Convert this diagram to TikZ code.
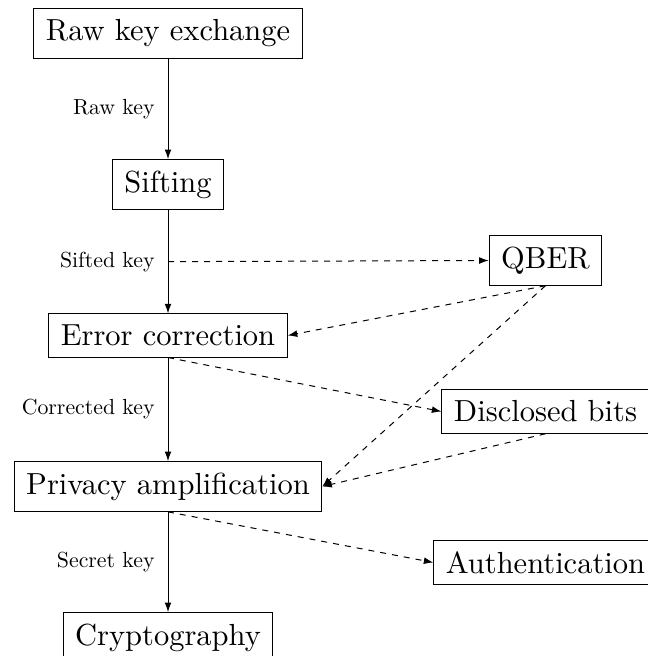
\documentclass[tikz,border=0pt]{standalone}
\usepackage{graphicx}
\usetikzlibrary{arrows.meta}
\newcommand{\BigT}[1]{\scalebox{1.525}{#1}}
\newcommand{\LblT}[1]{\scalebox{1.09}{#1}}
\begin{document}
\begin{tikzpicture}[x=0.5pt,y=-0.5pt,line width=0.5pt,
  box/.style={draw, font=\fontsize{10}{12}\selectfont, inner xsep=6pt, inner ysep=5.5pt},
  lbl/.style={font=\fontsize{10}{12}\selectfont, inner sep=0pt},
  flow/.style={-{Latex[length=4.8pt,width=3.4pt]}},
  side/.style={dashed,-{Latex[length=4.8pt,width=3.4pt]}}]
\useasboundingbox (0,0) rectangle (647,656);
\node[box] (rke)  at (168,33.5)  {\BigT{Raw key exchange}};
\node[box] (sift) at (168,184.5) {\BigT{Sifting}};
\node[box] (ec)   at (168,335.5) {\BigT{Error correction}};
\node[box] (pa)   at (168,486.5) {\BigT{Privacy amplification}};
\node[box] (cry)  at (168,637.5) {\BigT{Cryptography}};
\node[box] (qber) at (545.5,260.5) {\BigT{QBER}};
\node[box] (disc) at (545.5,411.5) {\BigT{Disclosed bits}};
\node[box] (auth) at (545.5,562.5) {\BigT{Authentication}};
\draw[flow] (rke) -- node[lbl,left=6.5pt] {\LblT{Raw key}} (sift);
\draw[flow] (sift) -- node[lbl,left=6.5pt] {\LblT{Sifted key}} coordinate[pos=0.5] (m2) (ec);
\draw[flow] (ec) -- node[lbl,left=6.5pt] {\LblT{Corrected key}} (pa);
\draw[flow] (pa) -- node[lbl,left=6.5pt] {\LblT{Secret key}} (cry);
\draw[side] (m2) -- (qber.west);
\draw[side] (qber.south) -- (ec.east);
\draw[side] (qber.south) -- (pa.east);
\draw[side] (ec.south) -- (disc.west);
\draw[side] (disc.south) -- (pa.east);
\draw[side] (pa.south) -- (auth.west);
\end{tikzpicture}
\end{document}
